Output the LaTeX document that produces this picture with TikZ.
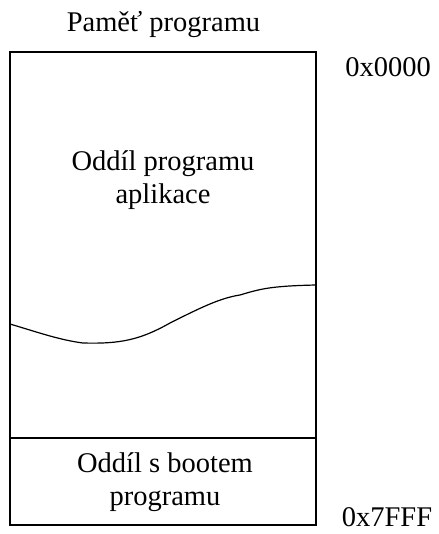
\documentclass[tikz,border=0pt]{standalone}
\usepackage{fontspec}
\setmainfont{Liberation Serif}
\begin{document}
\begin{tikzpicture}[x=1pt,y=-1pt,
  lbl/.style={font=\fontsize{28.5}{33}\selectfont, align=center, inner sep=0pt},
  wall/.style={line width=1.4pt}]
\useasboundingbox (0,0) rectangle (438,534);
\draw[wall] (10,52) rectangle (316,525);
\draw[wall] (10,438) -- (316,438);
\draw[line width=1.2pt] (10,324) .. controls (40,333) and (60,340) .. (83,343)
  .. controls (120,344) and (140,340) .. (170,323)
  .. controls (200,308) and (220,298) .. (240,295)
  .. controls (260,289) and (270,286) .. (316,285);
\node[lbl] (title) at (163.5,25) {Paměť programu};
\node[lbl] (app) at (163,180) {Oddíl programu\\aplikace};
\node[lbl] (boot) at (165,482) {Oddíl s bootem\\programu};
\node[lbl] (a0) at (388,67) {0x0000};
\node[lbl, anchor=base] (a1) at (387,526) {0x7FFF};
\end{tikzpicture}
\end{document}
